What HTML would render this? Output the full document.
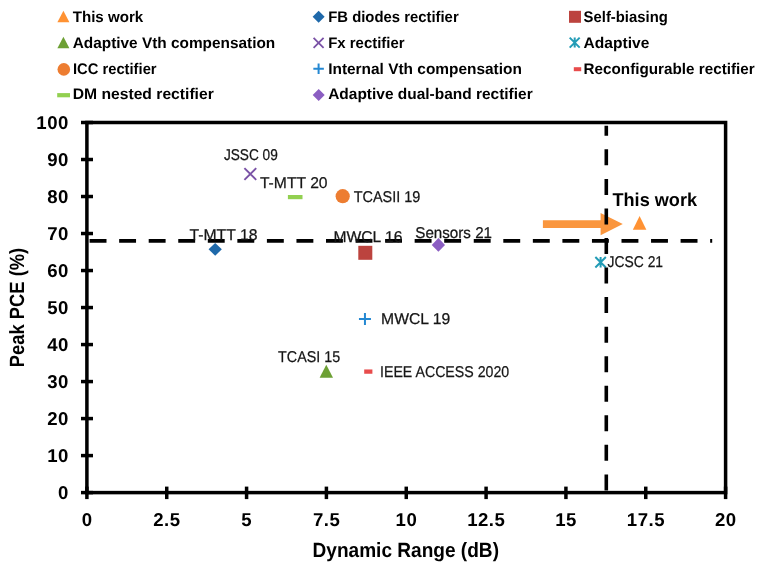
<!DOCTYPE html>
<html><head><meta charset="utf-8"><style>
html,body{margin:0;padding:0;background:#fff;}
body{width:765px;height:572px;overflow:hidden;}
svg{display:block;font-family:"Liberation Sans", sans-serif;text-rendering:geometricPrecision;}
svg{will-change:transform;}
</style></head><body>
<svg width="765" height="572" viewBox="0 0 765 572">
<rect width="765" height="572" fill="#fff"/>
<polygon points="57.40,22.25 69.40,22.25 63.40,10.75" fill="#FF9233"/>
<polygon points="57.40,48.35 69.40,48.35 63.40,36.85" fill="#6DA034"/>
<circle cx="63.80" cy="69.40" r="6.3" fill="#ED7D31"/>
<rect x="57.20" y="93.10" width="12.8" height="4.2" fill="#92D050"/>
<polygon points="318.65,10.70 324.65,16.70 318.65,22.70 312.65,16.70" fill="#1F69AA"/>
<path d="M313.60,37.80L323.60,47.80M323.60,37.80L313.60,47.80" stroke="#7A52A6" stroke-width="1.8" fill="none"/>
<path d="M313.35,68.70H323.85M318.60,63.45V73.95" stroke="#2488D2" stroke-width="2" fill="none"/>
<polygon points="318.70,88.90 324.70,94.90 318.70,100.90 312.70,94.90" fill="#8B5EC2"/>
<rect x="569.00" y="10.80" width="12" height="12" fill="#BC433E"/>
<path d="M569.70,37.60L579.70,47.60M579.70,37.60L569.70,47.60M574.70,37.60V47.60" stroke="#239CB6" stroke-width="2" fill="none"/>
<rect x="573.80" y="67.20" width="7.4" height="4" fill="#E84C4C"/>
<text x="72.70" y="22.00" font-size="15.4" font-weight="bold" fill="#000" text-anchor="start" textLength="70.60" lengthAdjust="spacingAndGlyphs" >This work</text>
<text x="72.70" y="48.00" font-size="15.4" font-weight="bold" fill="#000" text-anchor="start" textLength="202.50" lengthAdjust="spacingAndGlyphs" >Adaptive Vth compensation</text>
<text x="72.90" y="73.50" font-size="15.4" font-weight="bold" fill="#000" text-anchor="start" textLength="83.70" lengthAdjust="spacingAndGlyphs" >ICC rectifier</text>
<text x="72.70" y="99.40" font-size="15.4" font-weight="bold" fill="#000" text-anchor="start" textLength="141.10" lengthAdjust="spacingAndGlyphs" >DM nested rectifier</text>
<text x="328.20" y="22.00" font-size="15.4" font-weight="bold" fill="#000" text-anchor="start" textLength="130.50" lengthAdjust="spacingAndGlyphs" >FB diodes rectifier</text>
<text x="328.20" y="48.00" font-size="15.4" font-weight="bold" fill="#000" text-anchor="start" textLength="76.40" lengthAdjust="spacingAndGlyphs" >Fx rectifier</text>
<text x="328.20" y="73.50" font-size="15.4" font-weight="bold" fill="#000" text-anchor="start" textLength="193.70" lengthAdjust="spacingAndGlyphs" >Internal Vth compensation</text>
<text x="328.20" y="99.40" font-size="15.4" font-weight="bold" fill="#000" text-anchor="start" textLength="204.50" lengthAdjust="spacingAndGlyphs" >Adaptive dual-band rectifier</text>
<text x="583.60" y="22.00" font-size="15.4" font-weight="bold" fill="#000" text-anchor="start" textLength="84.20" lengthAdjust="spacingAndGlyphs" >Self-biasing</text>
<text x="583.60" y="48.00" font-size="15.4" font-weight="bold" fill="#000" text-anchor="start" textLength="65.70" lengthAdjust="spacingAndGlyphs" >Adaptive</text>
<text x="583.60" y="73.50" font-size="15.4" font-weight="bold" fill="#000" text-anchor="start" textLength="171.10" lengthAdjust="spacingAndGlyphs" >Reconfigurable rectifier</text>
<rect x="86.90" y="122.50" width="638.70" height="370.10" fill="none" stroke="#000" stroke-width="3.5"/>
<line x1="81" y1="492.60" x2="93" y2="492.60" stroke="#000" stroke-width="3.5"/>
<text x="68.90" y="499.40" font-size="18.6" font-weight="bold" fill="#000" text-anchor="end" letter-spacing="0.5">0</text>
<line x1="81" y1="455.59" x2="93" y2="455.59" stroke="#000" stroke-width="3.5"/>
<text x="68.90" y="462.39" font-size="18.6" font-weight="bold" fill="#000" text-anchor="end" letter-spacing="0.5">10</text>
<line x1="81" y1="418.58" x2="93" y2="418.58" stroke="#000" stroke-width="3.5"/>
<text x="68.90" y="425.38" font-size="18.6" font-weight="bold" fill="#000" text-anchor="end" letter-spacing="0.5">20</text>
<line x1="81" y1="381.57" x2="93" y2="381.57" stroke="#000" stroke-width="3.5"/>
<text x="68.90" y="388.37" font-size="18.6" font-weight="bold" fill="#000" text-anchor="end" letter-spacing="0.5">30</text>
<line x1="81" y1="344.56" x2="93" y2="344.56" stroke="#000" stroke-width="3.5"/>
<text x="68.90" y="351.36" font-size="18.6" font-weight="bold" fill="#000" text-anchor="end" letter-spacing="0.5">40</text>
<line x1="81" y1="307.55" x2="93" y2="307.55" stroke="#000" stroke-width="3.5"/>
<text x="68.90" y="314.35" font-size="18.6" font-weight="bold" fill="#000" text-anchor="end" letter-spacing="0.5">50</text>
<line x1="81" y1="270.54" x2="93" y2="270.54" stroke="#000" stroke-width="3.5"/>
<text x="68.90" y="277.34" font-size="18.6" font-weight="bold" fill="#000" text-anchor="end" letter-spacing="0.5">60</text>
<line x1="81" y1="233.53" x2="93" y2="233.53" stroke="#000" stroke-width="3.5"/>
<text x="68.90" y="240.33" font-size="18.6" font-weight="bold" fill="#000" text-anchor="end" letter-spacing="0.5">70</text>
<line x1="81" y1="196.52" x2="93" y2="196.52" stroke="#000" stroke-width="3.5"/>
<text x="68.90" y="203.32" font-size="18.6" font-weight="bold" fill="#000" text-anchor="end" letter-spacing="0.5">80</text>
<line x1="81" y1="159.51" x2="93" y2="159.51" stroke="#000" stroke-width="3.5"/>
<text x="68.90" y="166.31" font-size="18.6" font-weight="bold" fill="#000" text-anchor="end" letter-spacing="0.5">90</text>
<line x1="81" y1="122.50" x2="93" y2="122.50" stroke="#000" stroke-width="3.5"/>
<text x="68.90" y="129.30" font-size="18.6" font-weight="bold" fill="#000" text-anchor="end" letter-spacing="0.5">100</text>
<line x1="86.90" y1="486.60" x2="86.90" y2="499.10" stroke="#000" stroke-width="3.5"/>
<text x="87.10" y="526.40" font-size="18.6" font-weight="bold" fill="#000" text-anchor="middle" letter-spacing="0.5">0</text>
<line x1="166.74" y1="486.60" x2="166.74" y2="499.10" stroke="#000" stroke-width="3.5"/>
<text x="166.94" y="526.40" font-size="18.6" font-weight="bold" fill="#000" text-anchor="middle" letter-spacing="0.5">2.5</text>
<line x1="246.58" y1="486.60" x2="246.58" y2="499.10" stroke="#000" stroke-width="3.5"/>
<text x="246.78" y="526.40" font-size="18.6" font-weight="bold" fill="#000" text-anchor="middle" letter-spacing="0.5">5</text>
<line x1="326.41" y1="486.60" x2="326.41" y2="499.10" stroke="#000" stroke-width="3.5"/>
<text x="326.61" y="526.40" font-size="18.6" font-weight="bold" fill="#000" text-anchor="middle" letter-spacing="0.5">7.5</text>
<line x1="406.25" y1="486.60" x2="406.25" y2="499.10" stroke="#000" stroke-width="3.5"/>
<text x="406.45" y="526.40" font-size="18.6" font-weight="bold" fill="#000" text-anchor="middle" letter-spacing="0.5">10</text>
<line x1="486.09" y1="486.60" x2="486.09" y2="499.10" stroke="#000" stroke-width="3.5"/>
<text x="486.29" y="526.40" font-size="18.6" font-weight="bold" fill="#000" text-anchor="middle" letter-spacing="0.5">12.5</text>
<line x1="565.92" y1="486.60" x2="565.92" y2="499.10" stroke="#000" stroke-width="3.5"/>
<text x="566.12" y="526.40" font-size="18.6" font-weight="bold" fill="#000" text-anchor="middle" letter-spacing="0.5">15</text>
<line x1="645.76" y1="486.60" x2="645.76" y2="499.10" stroke="#000" stroke-width="3.5"/>
<text x="645.96" y="526.40" font-size="18.6" font-weight="bold" fill="#000" text-anchor="middle" letter-spacing="0.5">17.5</text>
<line x1="725.60" y1="486.60" x2="725.60" y2="499.10" stroke="#000" stroke-width="3.5"/>
<text x="725.80" y="526.40" font-size="18.6" font-weight="bold" fill="#000" text-anchor="middle" letter-spacing="0.5">20</text>
<text x="312.50" y="557.10" font-size="20.6" font-weight="bold" fill="#000" text-anchor="start" textLength="186.50" lengthAdjust="spacingAndGlyphs" >Dynamic Range (dB)</text>
<text transform="translate(24.2,367.2) rotate(-90)" x="0" y="0" font-size="20.6" font-weight="bold" fill="#000" textLength="119.4" lengthAdjust="spacingAndGlyphs">Peak PCE (%)</text>
<line x1="89.6" y1="240.9" x2="712.2" y2="240.9" stroke="#000" stroke-width="3.6" stroke-dasharray="16.9 12.65"/>
<text x="223.90" y="159.90" font-size="15.6" font-weight="normal" fill="#161616" text-anchor="start" textLength="53.90" lengthAdjust="spacingAndGlyphs" stroke="#161616" stroke-width="0.25">JSSC 09</text>
<text x="259.90" y="188.10" font-size="15.6" font-weight="normal" fill="#161616" text-anchor="start" textLength="67.70" lengthAdjust="spacingAndGlyphs" stroke="#161616" stroke-width="0.25">T-MTT 20</text>
<text x="353.70" y="202.00" font-size="15.6" font-weight="normal" fill="#161616" text-anchor="start" textLength="66.70" lengthAdjust="spacingAndGlyphs" stroke="#161616" stroke-width="0.25">TCASII 19</text>
<text x="189.40" y="239.90" font-size="15.6" font-weight="normal" fill="#161616" text-anchor="start" textLength="68.10" lengthAdjust="spacingAndGlyphs" stroke="#161616" stroke-width="0.25">T-MTT 18</text>
<text x="333.40" y="241.70" font-size="15.6" font-weight="normal" fill="#161616" text-anchor="start" textLength="69.00" lengthAdjust="spacingAndGlyphs" stroke="#161616" stroke-width="0.25">MWCL 16</text>
<text x="415.30" y="237.80" font-size="15.6" font-weight="normal" fill="#161616" text-anchor="start" textLength="76.70" lengthAdjust="spacingAndGlyphs" stroke="#161616" stroke-width="0.25">Sensors 21</text>
<text x="607.60" y="267.30" font-size="15.6" font-weight="normal" fill="#161616" text-anchor="start" textLength="55.50" lengthAdjust="spacingAndGlyphs" stroke="#161616" stroke-width="0.25">JCSC 21</text>
<text x="381.10" y="324.40" font-size="15.6" font-weight="normal" fill="#161616" text-anchor="start" textLength="69.20" lengthAdjust="spacingAndGlyphs" stroke="#161616" stroke-width="0.25">MWCL 19</text>
<text x="278.10" y="361.90" font-size="15.6" font-weight="normal" fill="#161616" text-anchor="start" textLength="62.00" lengthAdjust="spacingAndGlyphs" stroke="#161616" stroke-width="0.25">TCASI 15</text>
<text x="380.00" y="376.60" font-size="15.6" font-weight="normal" fill="#161616" text-anchor="start" textLength="129.20" lengthAdjust="spacingAndGlyphs" stroke="#161616" stroke-width="0.25">IEEE ACCESS 2020</text>
<path d="M244.40,168.10L256.20,179.90M256.20,168.10L244.40,179.90" stroke="#7A52A6" stroke-width="1.9" fill="none"/>
<rect x="287.90" y="195.00" width="14.6" height="4.2" fill="#92D050"/>
<circle cx="342.70" cy="196.20" r="7.1" fill="#ED7D31"/>
<polygon points="215.20,242.90 221.85,249.30 215.20,255.70 208.55,249.30" fill="#1F69AA"/>
<rect x="358.30" y="245.80" width="14" height="14" fill="#BC433E"/>
<polygon points="438.40,238.10 445.05,244.90 438.40,251.70 431.75,244.90" fill="#8B5EC2"/>
<path d="M595.35,257.05L605.85,267.55M605.85,257.05L595.35,267.55M600.60,257.05V267.55" stroke="#239CB6" stroke-width="2" fill="none"/>
<path d="M358.95,319.00H370.95M364.95,313.00V325.00" stroke="#2488D2" stroke-width="2" fill="none"/>
<polygon points="319.60,377.70 333.00,377.70 326.30,364.70" fill="#6DA034"/>
<rect x="364.20" y="369.45" width="8.2" height="4.3" fill="#E84C4C"/>
<polygon points="632.85,229.70 646.35,229.70 639.60,215.90" fill="#FF9233"/>
<path d="M542.9,220.2 H600.6 V212.9 L622.8,224.1 L600.6,235.3 V227.9 H542.9 Z" fill="#FA963E"/>
<line x1="606.3" y1="125.8" x2="606.3" y2="491" stroke="#000" stroke-width="3.6" stroke-dasharray="16 13.55" stroke-dashoffset="6"/>
<text x="612.50" y="205.70" font-size="18.5" font-weight="bold" fill="#000" text-anchor="start" textLength="84.50" lengthAdjust="spacingAndGlyphs" >This work</text>
</svg>
</body></html>
